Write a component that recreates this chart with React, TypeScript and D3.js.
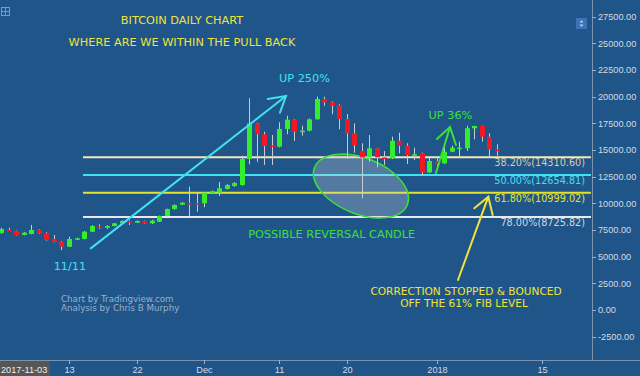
import React from "react";
import * as d3 from "d3";

const W = 640;
const H = 376;

const dates = [
  "2017-11-04","2017-11-05","2017-11-06","2017-11-07","2017-11-08","2017-11-09","2017-11-10","2017-11-11","2017-11-12","2017-11-13",
  "2017-11-14","2017-11-15","2017-11-16","2017-11-17","2017-11-18","2017-11-19","2017-11-20","2017-11-21","2017-11-22","2017-11-23",
  "2017-11-24","2017-11-25","2017-11-26","2017-11-27","2017-11-28","2017-11-29","2017-11-30","2017-12-01","2017-12-02","2017-12-03",
  "2017-12-04","2017-12-05","2017-12-06","2017-12-07","2017-12-08","2017-12-09","2017-12-10","2017-12-11","2017-12-12","2017-12-13",
  "2017-12-14","2017-12-15","2017-12-16","2017-12-17","2017-12-18","2017-12-19","2017-12-20","2017-12-21","2017-12-22","2017-12-23",
  "2017-12-24","2017-12-25","2017-12-26","2017-12-27","2017-12-28","2017-12-29","2017-12-30","2017-12-31","2018-01-01","2018-01-02",
  "2018-01-03","2018-01-04","2018-01-05","2018-01-06","2018-01-07","2018-01-08","2018-01-09",
];
const opens = [
  7220, 7520, 7410, 7040, 7125, 7500, 7220, 6660, 6400, 5930,
  6590, 6660, 7340, 7850, 7716, 7875, 8130, 8345, 8185, 8345,
  8130, 8280, 8815, 9470, 9870, 10030, 10030, 10000, 10940, 11000,
  11345, 11625, 11720, 14155, 17500, 16470, 15420, 15310, 16970, 17840,
  16780, 16810, 17880, 19780, 19470, 19220, 17905, 16565, 14905, 14315,
  15160, 14300, 14220, 15870, 15405, 14560, 14690, 12910, 13970, 13755,
  14840, 15180, 15160, 17035, 17250, 16245, 15065,
];
const highs = [
  7700, 7700, 7450, 7300, 7970, 7550, 7300, 7030, 6450, 6870,
  6780, 7400, 7950, 8030, 7950, 8150, 8400, 8400, 8400, 8380,
  8450, 8850, 9500, 9900, 10100, 11560, 11000, 11050, 11200, 12000,
  11800, 12000, 14465, 19850, 17550, 16715, 16405, 17600, 18215, 17900,
  17280, 17950, 20000, 20000, 19550, 19300, 18375, 17500, 15630, 16405,
  15200, 14905, 16245, 16620, 15630, 15215, 14750, 14280, 14370, 15470,
  15405, 15780, 17280, 17280, 17280, 16565, 15535,
];
const lows = [
  7150, 7400, 7000, 7000, 7100, 7150, 6500, 6350, 5625, 5900,
  6550, 6620, 7300, 7600, 7600, 7850, 8100, 7970, 8150, 8100,
  8050, 8250, 8780, 9400, 9850, 8750, 9215, 9630, 10900, 10690,
  11300, 11550, 11650, 13660, 13900, 13595, 13595, 15250, 16470, 15845,
  16340, 16750, 17850, 19150, 18345, 16940, 14155, 14745, 10470, 13905,
  13380, 13595, 14150, 14690, 13690, 14065, 12655, 12850, 13125, 13700,
  14800, 14370, 14905, 16000, 15780, 14370, 14465,
];
const closes = [
  7590, 7480, 7030, 7250, 7500, 7190, 6560, 6400, 5930, 6660,
  6720, 7340, 7875, 7780, 7875, 8130, 8345, 8185, 8345, 8130,
  8370, 8815, 9470, 9845, 10060, 9980, 9990, 11000, 11130, 11410,
  11720, 11905, 14155, 17500, 16470, 15375, 15375, 16970, 17840, 16715,
  16810, 17880, 19780, 19470, 19155, 17905, 16565, 15470, 14315, 15160,
  14315, 14250, 15870, 15405, 14530, 14600, 12910, 13970, 13660, 14840,
  15215, 15215, 17035, 17250, 16245, 15065, 14880,
];

const yTicks = [-2500, 0, 2500, 5000, 7500, 10000, 12500, 15000, 17500, 20000, 22500, 25000, 27500];
const xTickDates = ["2017-11-13", "2017-11-22", "2017-12-01", "2017-12-11", "2017-12-20", "2018-01-01", "2018-01-15"];
const xTickLabels = ["13", "22", "Dec", "11", "20", "2018", "15"];

const fibLevels = ["38.20%", "50.00%", "61.80%", "78.00%"];
const fibPrices = [14310.6, 12654.81, 10999.02, 8725.82];

const FONT = "'DejaVu Sans', Verdana, sans-serif";
const AXFONT = "'Liberation Sans', Arial, sans-serif";
const BG = "#20558a";
const GREEN = "#33ee2a";
const RED = "#f01a24";
const WICK = "#c6cdd6";
const YEL = "#efe43b";
const CYAN = "#40e2f0";
const LGREEN = "#3ae03a";

const parse = d3.utcParse("%Y-%m-%d");
const base = parse("2017-11-13") as Date;

export default function App() {
  const x = d3.scaleUtc().domain([base, parse("2018-01-15") as Date]).range([69, 542]);
  const y = d3.scaleLinear().domain([0, 27500]).range([310, 16.67]);
  const plotRight = 592;
  const plotBottom = 360;
  // annotation helper: days after Nov 13 (fractional), price
  const ax = (t: number) => x(new Date(base.getTime() + t * 86400000));
  const P = (t: number, v: number) => [ax(t), y(v)] as [number, number];

  const fibStyle = [
    { line: "#f3e8b8", text: "#d9cba2" },
    { line: CYAN, text: CYAN },
    { line: "#e4e42e", text: "#e4e42e" },
    { line: "#e6e9ee", text: "#cfd6df" },
  ];

  const bodyW = 5;
  const line = d3.line();

  const arrow = (pts: [number, number][][], color: string, key: string) => (
    <g key={key} stroke={color} strokeWidth={2} fill="none" strokeLinecap="round">
      {pts.map((p, i) => (
        <path key={i} d={line(p) || ""} />
      ))}
    </g>
  );

  const ellipseC = P(38.89, 11625);

  return (
    <svg width={W} height={H} style={{ position: "absolute", left: 0, top: 0 }}>
      <defs>
        <clipPath id="plot">
          <rect x={0} y={0} width={plotRight} height={plotBottom} />
        </clipPath>
      </defs>
      <rect x={0} y={0} width={W} height={H} fill={BG} />

      <g clipPath="url(#plot)">
        {/* fib lines */}
        {fibPrices.map((p, i) => (
          <line key={i} x1={ax(1.86)} x2={plotRight - 1} y1={y(p)} y2={y(p)} stroke={fibStyle[i].line} strokeWidth={2} />
        ))}
        {/* ellipse */}
        <ellipse
          cx={ellipseC[0]}
          cy={ellipseC[1]}
          rx={50}
          ry={28}
          transform={`rotate(22 ${ellipseC[0]} ${ellipseC[1]})`}
          fill="rgba(205,210,215,0.3)"
          stroke={LGREEN}
          strokeWidth={1.5}
        />
        {/* candles */}
        {dates.map((d, i) => {
          const cx = Math.round(x(parse(d) as Date));
          const o = y(opens[i]);
          const c = y(closes[i]);
          const up = closes[i] >= opens[i];
          const top = Math.min(o, c);
          const h = Math.max(1.5, Math.abs(o - c));
          return (
            <g key={d}>
              <line x1={cx + 0.5} x2={cx + 0.5} y1={y(highs[i])} y2={y(lows[i])} stroke={WICK} strokeWidth={1} />
              <rect x={cx - 2} y={top} width={bodyW} height={h} fill={up ? GREEN : RED} />
            </g>
          );
        })}
        {/* fib labels */}
        {fibPrices.map((p, i) => (
          <text key={i} x={585} y={y(p) + 9} textAnchor="end" fontFamily={FONT} fontSize={9.7} fill={fibStyle[i].text}>
            {`${fibLevels[i]}(${p.toFixed(2)})`}
          </text>
        ))}

        {/* cyan arrow */}
        {arrow(
          [
            [P(2.9, 5780), P(28.9, 20060)],
            [P(26.47, 19781), P(28.9, 20060), P(28.1, 18497)],
          ],
          CYAN,
          "a1"
        )}
        {/* green arrow */}
        {arrow(
          [
            [P(48.88, 12844), P(50.75, 17156)],
            [P(49.01, 16031), P(50.75, 17156), P(51.54, 15469)],
          ],
          LGREEN,
          "a2"
        )}
        {/* yellow arrow */}
        {arrow(
          [
            [P(51.81, 2812), P(55.85, 10622)],
            [P(53.98, 9534), P(55.85, 10622), P(56.43, 8906)],
          ],
          YEL,
          "a3"
        )}

        <g fontFamily={FONT} fontSize={11.3}>
          <text x={182} y={24.3} textAnchor="middle" fill={YEL}>BITCOIN DAILY CHART</text>
          <text x={182} y={45.7} textAnchor="middle" fill={YEL}>WHERE ARE WE WITHIN THE PULL BACK</text>
          <text x={P(27.97, 21403)[0]} y={P(27.97, 21403)[1]} fill={CYAN}>UP 250%</text>
          <text x={P(0.13, 3750)[0]} y={P(0.13, 3750)[1]} textAnchor="middle" fill={CYAN}>11/11</text>
          <text x={P(50.81, 17878)[0]} y={P(50.81, 17878)[1]} textAnchor="middle" fill={LGREEN}>UP 36%</text>
          <text x={P(34.99, 6722)[0]} y={P(34.99, 6722)[1]} textAnchor="middle" fill={LGREEN}>POSSIBLE REVERSAL CANDLE</text>
        </g>
        <g fontFamily={FONT} fontSize={10.6} fill={YEL}>
          <text x={P(52.88, 1450)[0]} y={P(52.88, 1450)[1]} textAnchor="middle">CORRECTION STOPPED &amp; BOUNCED</text>
          <text x={P(52.61, 300)[0]} y={P(52.61, 300)[1]} textAnchor="middle">OFF THE 61% FIB LEVEL</text>
        </g>
        <g fontFamily={FONT} fontSize={8.7} fill="#9cb0c8">
          <text x={61} y={301.7}>Chart by Tradingview.com</text>
          <text x={61} y={310.7}>Analysis by Chris B Murphy</text>
        </g>

        {/* top-left icon */}
        <g stroke="#8397b0" strokeWidth={1} fill="none">
          <rect x={1.5} y={7.5} width={8} height={8} />
          <line x1={1.5} x2={9.5} y1={11.5} y2={11.5} />
          <line x1={5.5} x2={5.5} y1={7.5} y2={15.5} />
        </g>
        {/* top-right button */}
        <rect x={576} y={18} width={11} height={11} fill="#3c72b8" />
        <g fill="#b8cbe6">
          <path d="M581.5,20 L583.5,22.5 L579.5,22.5 Z" />
          <path d="M581.5,27 L583.5,24.5 L579.5,24.5 Z" />
        </g>
      </g>

      {/* right axis */}
      <line x1={plotRight + 0.5} x2={plotRight + 0.5} y1={0} y2={plotBottom} stroke="#7d93ad" strokeWidth={1} />
      {yTicks.map((t) => (
        <g key={t}>
          <line x1={plotRight} x2={plotRight + 4} y1={Math.round(y(t)) + 0.5} y2={Math.round(y(t)) + 0.5} stroke="#9fb0c4" />
          <text x={598} y={y(t) + 3.3} fontFamily={AXFONT} fontSize={9.2} fill="#d3dae3">
            {t.toFixed(2)}
          </text>
        </g>
      ))}

      {/* bottom axis */}
      <line x1={0} x2={W} y1={plotBottom + 0.5} y2={plotBottom + 0.5} stroke="#7d93ad" strokeWidth={1} />
      {xTickDates.map((d, i) => {
        const px = Math.round(x(parse(d) as Date)) + 0.5;
        return (
          <g key={d}>
            <line x1={px} x2={px} y1={plotBottom} y2={plotBottom + 4} stroke="#9fb0c4" />
            <text x={px} y={373.3} textAnchor="middle" fontFamily={AXFONT} fontSize={9.2} fill="#d3dae3">
              {xTickLabels[i]}
            </text>
          </g>
        );
      })}
      <rect x={0} y={361} width={50} height={15} fill="#565656" />
      <text x={1} y={373.3} fontFamily={AXFONT} fontSize={9.2} fill="#eeeeee">2017-11-03</text>
    </svg>
  );
}
